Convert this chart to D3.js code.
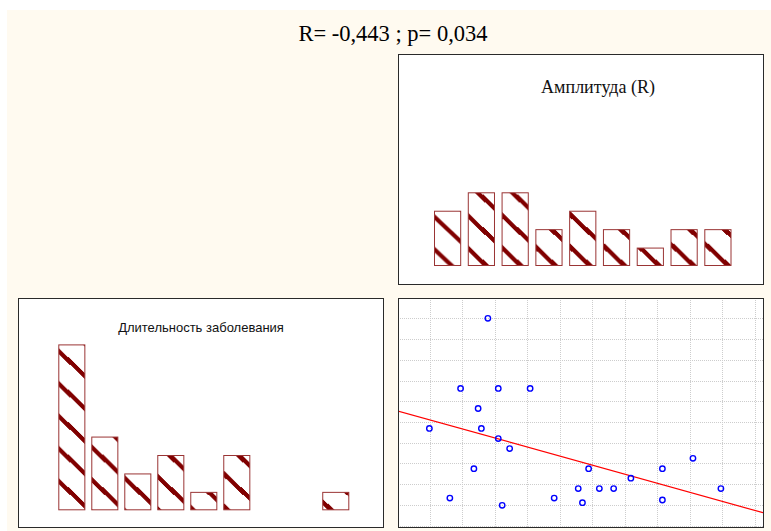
<!DOCTYPE html>
<html>
<head>
<meta charset="utf-8">
<script src="https://cdn.jsdelivr.net/npm/d3@7"></script>
<style>
  html, body { margin: 0; padding: 0; background: #ffffff; }
  svg { display: block; }
</style>
</head>
<body>
<svg id="chart" width="771" height="531"></svg>
<script>
// Amplitude (x) and disease duration (y) for each patient, in grid units
const amplitude = [2.79, 1.95, 3.11, 4.09, 2.49, 0.99, 2.59, 3.11, 3.46, 2.36, 5.89, 8.16,
                   9.10, 7.19, 5.57, 6.22, 6.66, 9.96, 1.62, 4.83, 8.16, 5.70, 3.23];
const duration  = [11.0, 7.62, 7.62, 7.62, 6.65, 5.69, 5.69, 5.20, 4.72, 3.75, 3.75, 3.75,
                   4.25, 3.29, 2.79, 2.79, 2.79, 2.79, 2.33, 2.33, 2.24, 2.11, 1.98];

// Histogram counts per bin
const amplitudeCounts = [3, 4, 4, 2, 3, 2, 1, 2, 2];
const durationCounts  = [9, 4, 2, 3, 1, 3, 0, 0, 1];

// Grid tick values of the scatter plot
const xTicks = [1, 2, 3, 4, 5, 6, 7, 8, 9, 10, 11];
const yTicks = [1, 2, 3, 4, 5, 6, 7, 8, 9, 10, 11];

const titleText = "R= -0,443 ; p= 0,034";
const amplitudeTitle = "Амплитуда (R)";
const durationTitle = "Длительность заболевания";

const svg = d3.select("#chart");
const defs = svg.append("defs");

// Diagonal hatch pattern shared by the histogram bars
const hatchH = 32.5, hatchSlope = 0.94, hatchW = hatchH / hatchSlope;
function makeHatch(id, soft) {
  const p = defs.append("pattern")
    .attr("id", id)
    .attr("patternUnits", "userSpaceOnUse")
    .attr("x", 0).attr("y", 3.5)
    .attr("width", hatchW).attr("height", hatchH);
  p.append("rect").attr("width", hatchW).attr("height", hatchH).attr("fill", "#ffffff");
  const g = p.append("g");
  if (soft) g.attr("filter", "url(#softBlur)");
  [-hatchW, 0, hatchW].forEach(dx => {
    g.append("line")
      .attr("x1", dx - 6).attr("y1", -6 * hatchSlope)
      .attr("x2", dx + hatchW + 6).attr("y2", hatchH + 6 * hatchSlope)
      .attr("stroke", "#800000")
      .attr("stroke-width", soft ? 4.2 : 4.4)
      .attr("shape-rendering", soft ? "auto" : "crispEdges");
  });
}
defs.append("filter").attr("id", "softBlur")
  .append("feGaussianBlur").attr("stdDeviation", 0.6);
makeHatch("hatch", false);
makeHatch("hatchSoft", true);

// Background
svg.append("rect").attr("x", 7).attr("y", 10).attr("width", 764).attr("height", 521)
  .attr("fill", "#fffaf0");

svg.append("text")
  .attr("x", 393).attr("y", 41)
  .attr("text-anchor", "middle")
  .attr("font-family", "'Liberation Serif', 'Times New Roman', serif")
  .attr("font-size", 22.5)
  .attr("fill", "#000")
  .text(titleText);

function panel(x0, y0, x1, y1) {
  svg.append("rect")
    .attr("x", x0 + 0.5).attr("y", y0 + 0.5)
    .attr("width", x1 - x0).attr("height", y1 - y0)
    .attr("fill", "#ffffff")
    .attr("stroke", "#2a2a2a")
    .attr("stroke-width", 1)
    .attr("shape-rendering", "crispEdges");
}

// ---- Amplitude histogram (top right)
panel(398, 54, 763, 284);
svg.append("text")
  .attr("x", 598).attr("y", 93)
  .attr("text-anchor", "middle")
  .attr("font-family", "'Liberation Serif', 'Times New Roman', serif")
  .attr("font-size", 18)
  .attr("fill", "#111")
  .text(amplitudeTitle);

const xA = d3.scaleBand().domain(d3.range(amplitudeCounts.length))
  .range([434, 731.5]).paddingInner(0.195).paddingOuter(0);
const yA = d3.scaleLinear().domain([0, 4]).range([266, 192.3]);

svg.append("g").selectAll("rect").data(amplitudeCounts).join("rect")
  .attr("x", (d, i) => xA(i) + 0.5)
  .attr("y", d => yA(d) + 0.5)
  .attr("width", xA.bandwidth() - 1)
  .attr("height", d => yA(0) - yA(d) - 1)
  .attr("fill", (d, i) => i === 0 ? "url(#hatchSoft)" : "url(#hatch)")
  .attr("stroke", "#9a3434")
  .attr("stroke-width", 1);

// ---- Duration histogram (bottom left)
panel(18, 298, 383, 527);
svg.append("text")
  .attr("x", 201).attr("y", 332)
  .attr("text-anchor", "middle")
  .attr("font-family", "'Liberation Sans', Arial, sans-serif")
  .attr("font-size", 13)
  .attr("fill", "#111")
  .text(durationTitle);

const xD = d3.scaleBand().domain(d3.range(durationCounts.length))
  .range([58.3, 349.3]).paddingInner(0.18).paddingOuter(0);
const yD = d3.scaleLinear().domain([0, 9]).range([510.3, 344.4]);

svg.append("g").selectAll("rect").data(durationCounts.map((c, i) => ({ c, i })).filter(d => d.c > 0))
  .join("rect")
  .attr("x", d => xD(d.i) + 0.5)
  .attr("y", d => yD(d.c) + 0.5)
  .attr("width", xD.bandwidth() - 1)
  .attr("height", d => yD(0) - yD(d.c) - 1)
  .attr("fill", "url(#hatch)")
  .attr("stroke", "#9a3434")
  .attr("stroke-width", 1);

// ---- Scatter plot (bottom right)
panel(398, 298, 763, 527);
const sx0 = 398, sx1 = 763, sy0 = 298, sy1 = 527;
defs.append("clipPath").attr("id", "scatterClip")
  .append("rect").attr("x", sx0 + 1).attr("y", sy0 + 1)
  .attr("width", sx1 - sx0 - 1).attr("height", sy1 - sy0 - 1);

const xS = d3.scaleLinear().domain([0, 11]).range([397.2, 754.7]);
const yS = d3.scaleLinear().domain([1, 11]).range([525.7, 318.3]);

const plot = svg.append("g").attr("clip-path", "url(#scatterClip)");

const grid = plot.append("g")
  .attr("stroke", "#cdcdcd")
  .attr("stroke-width", 1)
  .attr("stroke-dasharray", "1,1")
  .attr("shape-rendering", "crispEdges");
grid.selectAll("line.v").data(xTicks).join("line").attr("class", "v")
  .attr("x1", d => Math.round(xS(d)) + 0.5).attr("x2", d => Math.round(xS(d)) + 0.5)
  .attr("y1", sy0).attr("y2", sy1);
grid.selectAll("line.h").data(yTicks).join("line").attr("class", "h")
  .attr("y1", d => Math.round(yS(d)) + 0.5).attr("y2", d => Math.round(yS(d)) + 0.5)
  .attr("x1", sx0).attr("x2", sx1);

// Least-squares fit of duration on amplitude
const mx = d3.mean(amplitude), my = d3.mean(duration);
let sxy = 0, sxx = 0;
amplitude.forEach((x, i) => { sxy += (x - mx) * (duration[i] - my); sxx += (x - mx) * (x - mx); });
const slope = sxy / sxx, intercept = my - slope * mx;
const xa = xS.invert(sx0), xb = xS.invert(sx1);
plot.append("line")
  .attr("x1", xS(xa)).attr("y1", yS(intercept + slope * xa))
  .attr("x2", xS(xb)).attr("y2", yS(intercept + slope * xb))
  .attr("stroke", "#ff0000")
  .attr("stroke-width", 1.2);

plot.append("g").selectAll("circle").data(amplitude).join("circle")
  .attr("cx", d => xS(d))
  .attr("cy", (d, i) => yS(duration[i]))
  .attr("r", 2.7)
  .attr("fill", "none")
  .attr("stroke", "#0000ff")
  .attr("stroke-width", 1.4);

// redraw scatter frame on top
svg.append("rect")
  .attr("x", sx0 + 0.5).attr("y", sy0 + 0.5)
  .attr("width", sx1 - sx0).attr("height", sy1 - sy0)
  .attr("fill", "none").attr("stroke", "#2a2a2a").attr("stroke-width", 1)
  .attr("shape-rendering", "crispEdges");
</script>
</body>
</html>
